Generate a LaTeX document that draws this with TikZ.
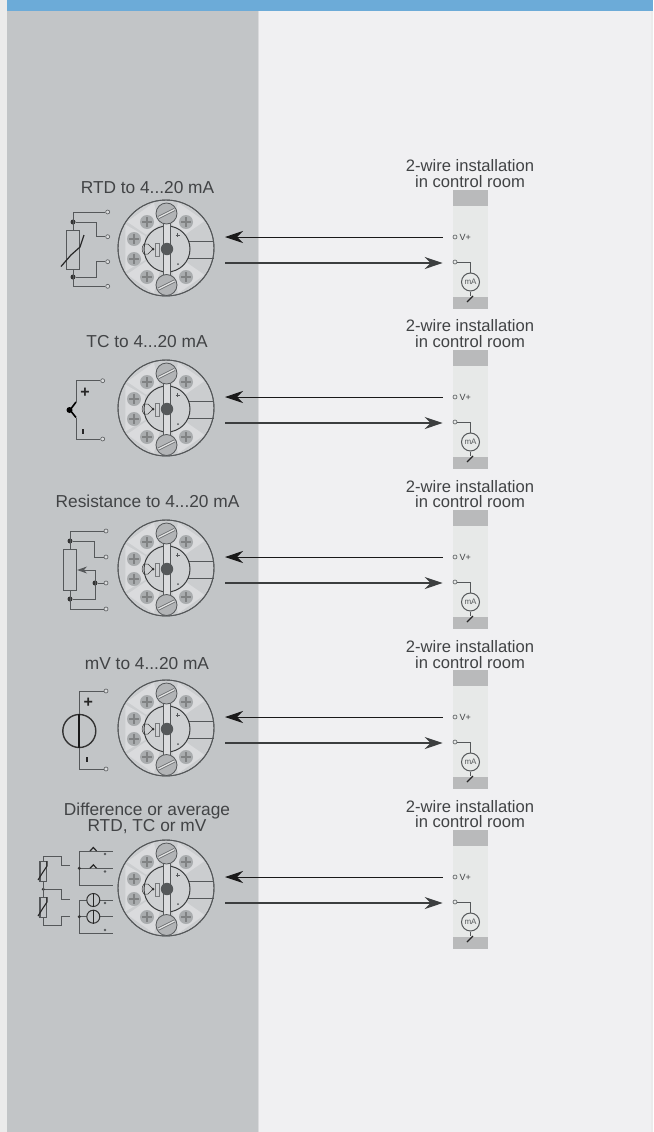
\documentclass[tikz,border=0pt]{standalone}
\usepackage{fontspec}
\setmainfont{Liberation Sans}
\usetikzlibrary{arrows.meta}
\definecolor{pagebg}{HTML}{EBEBEB}
\definecolor{leftp}{HTML}{C2C5C7}
\definecolor{rightp}{HTML}{F0F0F2}
\definecolor{topbar}{HTML}{6CABD8}
\definecolor{txt}{HTML}{414345}
\definecolor{ln}{HTML}{55585A}
\definecolor{ringc}{HTML}{CBCDCF}
\definecolor{innerc}{HTML}{CFD1D3}
\definecolor{wedge}{HTML}{DADBDD}
\definecolor{scr}{HTML}{A9ACAE}
\definecolor{col}{HTML}{E7E9E8}
\definecolor{blk}{HTML}{B9BABB}
\tikzset{
  x=1pt,y=-1pt,
  lab/.style={font=\fontsize{16.6}{15.6}\selectfont,text=txt,align=center,inner sep=0pt},
  ttl/.style={font=\fontsize{17.3}{16.4}\selectfont,text=txt,align=center,inner sep=0pt},
  wirel/.style={draw=ln,line width=1pt},
  thin/.style={draw=ln,line width=0.8pt},
  term/.style={circle,draw=ln,fill=leftp!60!white,line width=0.6pt,inner sep=0pt,minimum size=4pt},
  rterm/.style={circle,draw=ln,fill=col,line width=0.6pt,inner sep=0pt,minimum size=4pt},
  jdot/.style={circle,fill=black!80,inner sep=0pt,minimum size=5pt},
  jsmall/.style={circle,fill=black!80,inner sep=0pt,minimum size=3.4pt},
  ringn/.style={circle,draw=ln,fill=ringc,line width=0.9pt,inner sep=0pt,minimum size=96pt},
  innern/.style={circle,draw=ln!70!black,fill=innerc,line width=1pt,inner sep=0pt,minimum size=46pt},
  feed/.style={draw=black!90,line width=0.9pt,-{Stealth[length=18pt,width=12pt,inset=6pt]}},
  meter/.style={circle,draw=ln,fill=col,line width=1pt,inner sep=0pt,minimum size=18pt,font=\fontsize{8}{8}\selectfont,text=ln},
  small/.style={font=\fontsize{9}{9}\selectfont,text=txt,inner sep=0pt},
  signn/.style={font=\bfseries\fontsize{16}{16}\selectfont,text=black!85,inner sep=0pt},
  resist/.style={draw=ln,fill=leftp,line width=1.2pt,inner sep=0pt},
}
\newcommand{\wedgeat}[2]{\fill[wedge] ({166+24*cos(#1)},{248-24*sin(#1)}) -- ({166+47*cos(#1)},{248-47*sin(#1)}) -- ({166+47*cos(#2)},{248-47*sin(#2)}) -- ({166+24*cos(#2)},{248-24*sin(#2)}) -- cycle;}
\newcommand{\plusscrew}[2]{\fill[scr] (#1,#2) circle[radius=7];\draw[ln!75,line width=1.9pt] (#1-5,#2) -- (#1+5,#2) (#1,#2-5) -- (#1,#2+5);}
\newcommand{\slotscrew}[2]{\draw[ln,fill=scr!90,line width=0.8pt] (#1,#2) circle[radius=10.5];\draw[ln!85,line width=3pt] (#1-8,#2+4) -- (#1+8,#2-4);\draw[white!90!black,line width=1.3pt] (#1-8,#2+4) -- (#1+8,#2-4);}
\begin{document}
\begin{tikzpicture}
\useasboundingbox (0,0) rectangle (653,1132);
\fill[pagebg] (0,0) rectangle (653,1132);
\fill[leftp] (7,11) rectangle (258,1132);
\fill[rightp] (258,11) rectangle (651,1132);
\draw[wedge,line width=1pt] (258.5,11) -- (258.5,1132);
\fill[topbar] (7,0) rectangle (653,11);

\foreach \r/\off/\tx in {0/0/0,1/160/0,2/320/1,3/480/2,4/640/1}{
\begin{scope}[shift={(0,\off)}]
  % right column
  \fill[col] (453,206) rectangle (488.3,297);
  \fill[blk] (453,190) rectangle (488.3,206);
  \fill[blk] (453,297) rectangle (488.3,308.5);
  \node[lab] (room\r) at (470,{173.5+\tx*0.5}) {2-wire installation\\in control room};
  \node[rterm] (tv\r) at (455,237) {};
  \node[rterm] (tm\r) at (455,262) {};
  \node[small,anchor=west] (vp\r) at (459.5,237.5) {V+};
  \node[meter] (ma\r) at (470.5,282) {mA};
  \coordinate (gnd\r) at (470.5,296);
  \draw[wirel] (tm\r.east) -| (ma\r.north);
  \draw[wirel] (ma\r.south) -- (gnd\r);
  \draw[black!85,line width=1.3pt] (gnd\r) ++(2.5,0) -- ++(-6,6);
  % wheel
  \node[ringn] (ring\r) at (166,248) {};
  \wedgeat{105}{146}\wedgeat{150}{210}\wedgeat{214}{255}\wedgeat{285}{325}\wedgeat{35}{75}
  \draw[ln,line width=0.9pt] (166,248) circle[radius=48];
  \draw[ln,line width=0.9pt] (186,241) -- (214,241) (186,258) -- (214,258);
  \node[innern] (inner\r) at (167,249) {};
  \fill[wedge] (164,222) rectangle (170,276);
  \draw[ln,line width=0.9pt] (163.5,222) -- (163.5,276) (170.5,222) -- (170.5,276);
  \draw[black!80,line width=0.5pt] (144,244) -- (148,244) -- (153,249) -- (148,254) -- (144,254) (144,244) to[bend right=40] (144,254);
  \draw[ln!80,line width=0.5pt] (155,243) rectangle (159,256);
  \fill[black!80] (153,249) circle[radius=1.5];
  \fill[ln] (167,249) circle[radius=6.2];
  \draw[ln,line width=0.7pt] (175.5,235) -- (179.5,235) (177.5,233) -- (177.5,237);
  \fill[ln] (178,264) circle[radius=1];
  \plusscrew{147}{222}\plusscrew{186}{222}\plusscrew{134}{239}\plusscrew{134}{259}\plusscrew{147}{277}\plusscrew{186}{277}
  \slotscrew{166.5}{213.5}\slotscrew{166.5}{285}
  % connectors
  \coordinate (inp\r) at (225,237);
  \coordinate (out\r) at (225,263);
  \draw[feed,shorten <=10pt] (tv\r.west) -- (inp\r);
  \draw[feed,draw=ln!70!black,line width=1.2pt,shorten >=10pt] (out\r) -- (tm\r.west |- out\r);
\end{scope}}

% row 1 : RTD
\node[ttl] (t0) at (147.5,187.5) {RTD to 4...20 mA};
\node[term] (a1) at (107.7,212) {};
\node[term] (a2) at (107.7,236.7) {};
\node[term] (a3) at (107.7,261.7) {};
\node[term] (a4) at (107.7,286.3) {};
\node[resist,minimum width=12.5pt,minimum height=38.5pt] (r0) at (73,250) {};
\node[jdot] (j1) at (73,222) {};
\node[jdot] (j2) at (73,277) {};
\draw[wirel] (a1) -| (r0.north);
\draw[wirel] (j1) -| (96.7,236.7) -- (a2);
\draw[wirel] (j2) -| (96.7,261.7) -- (a3);
\draw[wirel] (r0.south) -- (73,286.3) -- (a4);
\draw[black!85,line width=1.2pt] (61,266.5) -- (71,255) -- (80,247) -- (84,235);

% row 2 : TC
\node[ttl] (t1) at (147,341.5) {TC to 4...20 mA};
\node[term] (b1) at (102.7,380.7) {};
\node[term] (b2) at (102.7,439) {};
\coordinate (bt) at (70,410);
\coordinate (bu) at (76,402);
\coordinate (bd) at (76,417.5);
\draw[wirel] (b1) -| (bu);
\draw[wirel] (b2) -| (bd);
\draw[black,line width=1.6pt] (bu) -- (bt) -- (bd);
\fill[black] (bt) ++(-0.5,0) circle[radius=3];
\node[signn] (bp) at (85,392.5) {+};
\fill[black!85] (81.6,428.5) rectangle (83.8,433.5);

% row 3 : Resistance
\node[ttl] (t2) at (147.5,501.5) {Resistance to 4...20 mA};
\node[term] (c1) at (106,531) {};
\node[term] (c2) at (106,557) {};
\node[term] (c3) at (106,583) {};
\node[term] (c4) at (106,609) {};
\node[resist,minimum width=13pt,minimum height=41.5pt] (r2) at (70,570) {};
\node[jdot] (j3) at (70,541) {};
\node[jdot] (j4) at (70,599) {};
\node[jdot] (j5) at (95,583) {};
\coordinate (wp) at (95,570);
\draw[wirel] (c1) -| (r2.north);
\draw[wirel] (j3) -| (94.3,557) -- (c2);
\draw[wirel] (j5) -- (c3);
\draw[wirel] (j4) -| (wp);
\draw[wirel,-{Stealth[length=10pt,width=7pt]}] (wp) -- (r2.east);
\draw[wirel] (r2.south) -- (70,609) -- (c4);

% row 4 : mV
\node[ttl] (t3) at (147,663.5) {mV to 4...20 mA};
\node[term] (d1) at (106,691) {};
\node[term] (d2) at (106,769) {};
\node[circle,draw=black!80,line width=1.4pt,minimum size=33pt,inner sep=0pt] (src) at (79.3,731) {};
\draw[wirel] (d1) -| (src.north);
\draw[wirel] (d2) -| (src.south);
\draw[black!90,line width=2pt] (src.north) -- (src.south);
\node[signn] (dp) at (88.3,702.5) {+};
\fill[black!85] (85.7,757) rectangle (87.9,761.5);

% row 5 : difference
\node[ttl] (t4) at (147,818.5) {Difference or average\\RTD, TC or mV};
\node[resist,line width=1.1pt,minimum width=6.7pt,minimum height=20pt] (e1) at (43.3,871.7) {};
\node[resist,line width=1.1pt,minimum width=6.7pt,minimum height=20pt] (e2) at (43.3,907.3) {};
\node[jsmall] (j6) at (43.3,889.3) {};
\coordinate (e3) at (70,865);
\coordinate (e4) at (70,899);
\coordinate (e5) at (70,916);
\draw[thin] (e1.north) -- (43.3,856) -- (61.7,856) -- (61.7,865) -- (e3);
\draw[thin] (e1.south) -- (e2.north);
\draw[thin] (j6) -- (61.7,889.3) -- (61.7,899) -- (e4);
\draw[thin] (e2.south) -- (43.3,925) -- (61.7,925) -- (61.7,916) -- (e5);
\draw[black!85,line width=1.1pt] (38,880) -- (43,872) -- (47,866) -- (47,861);
\draw[black!85,line width=1.1pt] (38,916) -- (43,908) -- (47,902) -- (47,897);
% TC pair
\coordinate (f1) at (79.3,851);
\coordinate (f2) at (79.3,868.3);
\coordinate (f3) at (79.3,885);
\draw[thin] (112.7,851) -- (f1) -- (f3) -- (112.7,885);
\draw[thin] (f2) -- (112.7,868.3);
\draw[black!85,line width=1.2pt,fill=leftp] (90,851) -- (93.3,847.5) -- (96.6,851);
\draw[black!85,line width=1.2pt,fill=leftp] (90,868.3) -- (93.3,864.8) -- (96.6,868.3);
\node[jsmall] (j7) at (f2) {};
\fill[ln] (105,854) circle[radius=1.3] (105,871.5) circle[radius=1.3];
% mV pair
\coordinate (g1) at (79.3,900);
\coordinate (g2) at (79.3,916.7);
\coordinate (g3) at (79.3,933);
\draw[thin] (112.7,900) -- (g1) -- (g3) -- (112.7,933);
\draw[thin] (g2) -- (112.7,916.7);
\node[circle,draw=black!80,line width=1pt,fill=leftp,minimum size=13pt,inner sep=0pt] (s1) at (93.3,900) {};
\node[circle,draw=black!80,line width=1pt,fill=leftp,minimum size=13pt,inner sep=0pt] (s2) at (93.3,916.7) {};
\draw[black!85,line width=1pt] (s1.north) -- (s1.south) (s2.north) -- (s2.south);
\node[jsmall] (j8) at (g2) {};
\fill[ln] (105,903) circle[radius=1.3] (105,930) circle[radius=1.3];
\end{tikzpicture}
\end{document}
